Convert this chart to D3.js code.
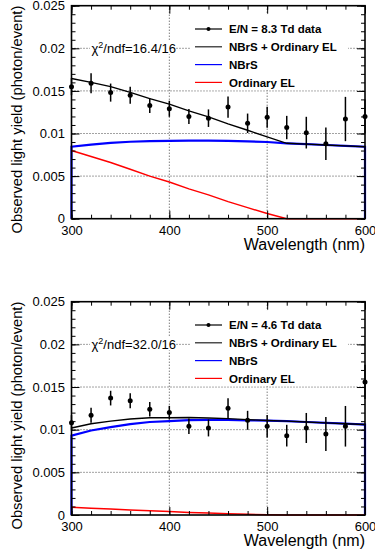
<!DOCTYPE html>
<html>
<head>
<meta charset="utf-8">
<script src="https://cdn.jsdelivr.net/npm/d3@7"></script>
<style>
  body { margin: 0; background: #fff; }
  svg { display: block; font-family: "Liberation Sans", Arial, Helvetica, sans-serif; }
</style>
</head>
<body>
<script>
// wavelength grid (nm) for data and fitted curves
let wavelengths = [300, 320, 340, 360, 380, 400, 420, 440, 460, 480, 500, 520, 540, 560, 580, 600];

// E/N = 8.3 Td
let yield83 = [0.0155, 0.0159, 0.0148, 0.0145, 0.0133, 0.0129, 0.0120, 0.0118, 0.0131, 0.0112, 0.0119, 0.0107, 0.0101, 0.0088, 0.0117, 0.0120];
let err83   = [0.0010, 0.00117, 0.00106, 0.0010, 0.00088, 0.00094, 0.00088, 0.00103, 0.00125, 0.00114, 0.00123, 0.00137, 0.00186, 0.0019, 0.0026, 0.0020];
let nbrs83  = [0.00845, 0.0087, 0.0089, 0.00903, 0.0091, 0.00914, 0.00916, 0.00916, 0.00913, 0.00908, 0.0090, 0.00885, 0.00875, 0.00865, 0.00855, 0.00845];
let el83    = [0.0080, 0.0073, 0.0066, 0.0058, 0.0050, 0.0043, 0.0035, 0.0028, 0.0020, 0.0013, 0.0006, 0, 0, 0, 0, 0];
let total83 = [0.01645, 0.0160, 0.0155, 0.01483, 0.0141, 0.01344, 0.01266, 0.01196, 0.01113, 0.01038, 0.0096, 0.00885, 0.00875, 0.00865, 0.00855, 0.00845];

// E/N = 4.6 Td
let yield46 = [0.0108, 0.0117, 0.0137, 0.0134, 0.0124, 0.0120, 0.0104, 0.0102, 0.0125, 0.0111, 0.0104, 0.0093, 0.0102, 0.0095, 0.0104, 0.0156];
let err46   = [0.0009, 0.00088, 0.00086, 0.00088, 0.00085, 0.00079, 0.0009, 0.00099, 0.00117, 0.00111, 0.00133, 0.00127, 0.00176, 0.0020, 0.00238, 0.0020];
let nbrs46  = [0.0093, 0.0099, 0.0103, 0.01065, 0.0109, 0.0110, 0.01112, 0.01115, 0.01115, 0.0111, 0.01105, 0.0110, 0.0109, 0.0108, 0.0107, 0.0106];
let el46    = [0.0009, 0.0008, 0.0007, 0.0006, 0.0005, 0.0004, 0.0003, 0.00022, 0.00015, 0.00008, 0.00002, 0, 0, 0, 0, 0];
let total46 = [0.0102, 0.0107, 0.0110, 0.01125, 0.0114, 0.0114, 0.01142, 0.01137, 0.0113, 0.01118, 0.01107, 0.0110, 0.0109, 0.0108, 0.0107, 0.0106];

let xTicks = [300, 400, 500, 600];
let xMinor = d3.range(300, 601, 20);
let yTicks = [0, 0.005, 0.01, 0.015, 0.02, 0.025];
let yMinor = d3.range(0, 0.0251, 0.001);
let xGrid = [400, 500];
let yGrid = [0.005, 0.01, 0.015, 0.02];

let legend83 = ['E/N = 8.3 Td data', 'NBrS + Ordinary EL', 'NBrS', 'Ordinary EL'];
let legend46 = ['E/N = 4.6 Td data', 'NBrS + Ordinary EL', 'NBrS', 'Ordinary EL'];
let chi83 = '/ndf=16.4/16';
let chi46 = '/ndf=32.0/16';

let width = 375;
let height = 553;
let left = 71.5, right = 365;

let svg = d3.select('body')
            .append('svg')
            .attr('width', width)
            .attr('height', height);

let drawPanel = (top, bottom, vals, errs, nbrs, el, total, legendText, chiText) => {
    let x = d3.scaleLinear().domain([300, 600]).range([left, right]);
    let y = d3.scaleLinear().domain([0, 0.025]).range([bottom, top]);
    let g = svg.append('g');

    // dotted grid
    g.selectAll('.gx').data(xGrid).enter().append('line')
        .attr('x1', d => x(d)).attr('x2', d => x(d))
        .attr('y1', top).attr('y2', bottom)
        .attr('stroke', '#444').attr('stroke-width', 1).attr('stroke-dasharray', '1,2');
    g.selectAll('.gy').data(yGrid).enter().append('line')
        .attr('x1', left).attr('x2', right)
        .attr('y1', d => y(d)).attr('y2', d => y(d))
        .attr('stroke', '#444').attr('stroke-width', 1).attr('stroke-dasharray', '1,2');

    // chi2 box
    let chiY = y(0.02);
    g.append('rect').attr('x', 90).attr('y', chiY - 8).attr('width', 86).attr('height', 14).attr('fill', '#fff');
    let chi = g.append('text').attr('x', 91.5).attr('y', chiY + 4.5)
        .attr('font-size', 13).attr('fill', '#000');
    chi.append('tspan').text('χ');
    chi.append('tspan').attr('font-size', 9).attr('dy', -5).text('2');
    chi.append('tspan').attr('dy', 5).text(chiText);

    // legend box
    g.append('rect').attr('x', 190).attr('y', top + 8.5).attr('width', 158).attr('height', 76).attr('fill', '#fff');

    let line = d3.line().x((d, i) => x(wavelengths[i])).y(d => y(d));

    // NBrS drawn with vertical edges down to zero (histogram-like)
    let nbrsPts = [[300, 0]].concat(wavelengths.map((w, i) => [w, nbrs[i]]), [[600, 0]]);
    g.append('path')
        .attr('d', d3.line().x(d => x(d[0])).y(d => y(d[1]))(nbrsPts))
        .attr('fill', 'none').attr('stroke', '#0000ff').attr('stroke-width', 2.2);
    g.append('path').attr('d', line(el))
        .attr('fill', 'none').attr('stroke', '#ff0000').attr('stroke-width', 1.5);
    g.append('path').attr('d', line(total))
        .attr('fill', 'none').attr('stroke', '#000').attr('stroke-width', 1.4);

    // data points with error bars
    g.selectAll('.err').data(vals).enter().append('line')
        .attr('x1', (d, i) => x(wavelengths[i])).attr('x2', (d, i) => x(wavelengths[i]))
        .attr('y1', (d, i) => y(d + errs[i])).attr('y2', (d, i) => y(d - errs[i]))
        .attr('stroke', '#000').attr('stroke-width', 1.5);
    g.selectAll('.pt').data(vals).enter().append('circle')
        .attr('cx', (d, i) => x(wavelengths[i])).attr('cy', d => y(d))
        .attr('r', 2.5).attr('fill', '#000');

    // axes: major + minor ticks pointing inward on all four sides
    let fmt = d => d === 0 ? '0' : String(+d.toFixed(3));
    g.append('g').attr('transform', 'translate(' + left + ',0)')
        .call(d3.axisLeft(y).tickValues(yTicks).tickSize(-8).tickSizeOuter(0).tickPadding(6.5).tickFormat(fmt));
    g.append('g').attr('transform', 'translate(' + left + ',0)')
        .call(d3.axisLeft(y).tickValues(yMinor).tickSize(-4).tickSizeOuter(0).tickFormat(''));
    g.append('g').attr('transform', 'translate(' + right + ',0)')
        .call(d3.axisRight(y).tickValues(yTicks).tickSize(-8).tickSizeOuter(0).tickFormat(''));
    g.append('g').attr('transform', 'translate(' + right + ',0)')
        .call(d3.axisRight(y).tickValues(yMinor).tickSize(-4).tickSizeOuter(0).tickFormat(''));
    g.append('g').attr('transform', 'translate(0,' + bottom + ')')
        .call(d3.axisBottom(x).tickValues(xTicks).tickSize(-8).tickSizeOuter(0).tickPadding(7).tickFormat(d3.format('d')));
    g.append('g').attr('transform', 'translate(0,' + bottom + ')')
        .call(d3.axisBottom(x).tickValues(xMinor).tickSize(-4).tickSizeOuter(0).tickFormat(''));
    g.append('g').attr('transform', 'translate(0,' + top + ')')
        .call(d3.axisTop(x).tickValues(xTicks).tickSize(-8).tickSizeOuter(0).tickFormat(''));
    g.append('g').attr('transform', 'translate(0,' + top + ')')
        .call(d3.axisTop(x).tickValues(xMinor).tickSize(-4).tickSizeOuter(0).tickFormat(''));
    g.selectAll('.domain').remove();
    g.selectAll('.tick line').attr('stroke', '#000').attr('stroke-width', 1);
    g.selectAll('.tick text').attr('font-size', 13).attr('fill', '#000')
        .attr('font-family', '"Liberation Sans", Arial, sans-serif');

    // frame
    g.append('rect').attr('x', left).attr('y', top).attr('width', right - left).attr('height', bottom - top)
        .attr('fill', 'none').attr('stroke', '#000').attr('stroke-width', 1.6);

    // legend entries
    let rows = legendText.map((t, i) => ({ t: t, i: i }));
    let colors = ['#000', '#222', '#0000ff', '#ff0000'];
    let leg = g.selectAll('.leg').data(rows).enter().append('g')
        .attr('transform', d => 'translate(0,' + (top + 23.3 + d.i * 17.8) + ')');
    leg.append('line').attr('x1', 195).attr('x2', 222).attr('y1', 0).attr('y2', 0)
        .attr('stroke', (d, i) => colors[i]).attr('stroke-width', 1.2);
    leg.filter(d => d.i === 0).append('circle').attr('cx', 208.5).attr('cy', 0).attr('r', 2).attr('fill', '#000');
    leg.append('text').attr('x', 229).attr('y', 0).attr('dy', '0.36em')
        .attr('font-size', 11.5).attr('font-weight', 'bold').attr('fill', '#000')
        .text(d => d.t);

    // axis titles
    g.append('text').attr('x', right).attr('y', bottom + 31)
        .attr('text-anchor', 'end').attr('font-size', 16).attr('fill', '#000')
        .text('Wavelength (nm)');
    g.append('text').attr('transform', 'translate(21.5,' + top + ') rotate(-90)')
        .attr('text-anchor', 'end').attr('font-size', 14.7).attr('fill', '#000')
        .text('Observed light yield (photon/event)');
}

drawPanel(5.7, 218.7, yield83, err83, nbrs83, el83, total83, legend83, chi83);
drawPanel(301.7, 515, yield46, err46, nbrs46, el46, total46, legend46, chi46);
</script>
</body>
</html>
